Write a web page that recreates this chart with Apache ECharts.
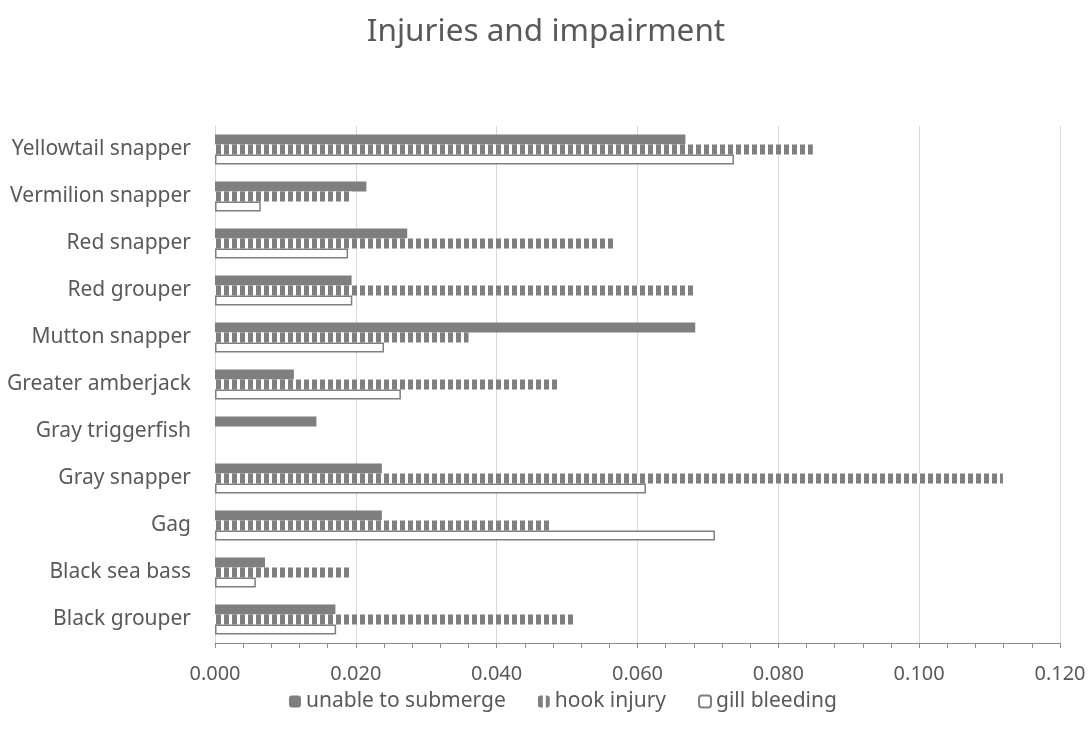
<!DOCTYPE html>
<html>
<head>
<meta charset="utf-8">
<script src="https://cdn.jsdelivr.net/npm/echarts@6/dist/echarts.min.js"></script>
<style>
  html, body { margin: 0; padding: 0; background: #fff; }
  #chart { width: 1092px; height: 740px; }
</style>
</head>
<body>
<div id="chart"></div>
<script>
// categories, bottom to top as in the picture
var species = ['Black grouper', 'Black sea bass', 'Gag', 'Gray snapper', 'Gray triggerfish',
  'Greater amberjack', 'Mutton snapper', 'Red grouper', 'Red snapper', 'Vermilion snapper', 'Yellowtail snapper'];

var unableToSubmerge = [0.0171, 0.0071, 0.0237, 0.0237, 0.0144, 0.0112, 0.0682, 0.0194, 0.0273, 0.0215, 0.0668];
var hookInjury = [0.0510, 0.0194, 0.0476, 0.1119, 0, 0.0487, 0.0360, 0.0679, 0.0566, 0.0194, 0.0849];
var gillBleeding = [0.0172, 0.0058, 0.0710, 0.0612, 0, 0.0264, 0.0240, 0.0195, 0.0189, 0.0065, 0.0737];

var xTicks = [0, 0.02, 0.04, 0.06, 0.08, 0.1, 0.12];

var grey = '#7f7f7f';
var textColor = '#595959';
var font = 'Noto Sans';

// vertical stripe fill for hook injury
function stripes() {
  var c = document.createElement('canvas');
  c.width = 8;
  c.height = 8;
  var ctx = c.getContext('2d');
  ctx.fillStyle = '#ffffff';
  ctx.fillRect(0, 0, 8, 8);
  ctx.fillStyle = grey;
  ctx.fillRect(0, 0, 5, 8);
  return c;
}

// zero values get no outline, so nothing shows
function noEmpty(arr) {
  return arr.map(function (v) {
    return v === 0 ? { value: v, itemStyle: { borderWidth: 0 } } : v;
  });
}

var chart = echarts.init(document.getElementById('chart'));
chart.setOption({
  animation: false,
  textStyle: { fontFamily: font, color: textColor },
  title: {
    text: 'Injuries and impairment',
    left: 'center',
    top: 11,
    textStyle: { fontFamily: font, fontSize: 31.5, fontWeight: 'normal', color: textColor }
  },
  legend: {
    top: 686,
    left: 284,
    itemWidth: 12,
    itemHeight: 12,
    itemGap: 32,
    textStyle: { fontFamily: font, fontSize: 21, color: textColor },
    data: ['unable to submerge', 'hook injury', 'gill bleeding']
  },
  grid: { left: 215, right: 32, top: 126, bottom: 97 },
  xAxis: {
    type: 'value',
    min: xTicks[0],
    max: xTicks[xTicks.length - 1],
    interval: 0.02,
    axisLine: { show: true, lineStyle: { color: '#8c8c8c', width: 1 } },
    axisTick: { show: true, length: 5, lineStyle: { color: '#8c8c8c' } },
    minorTick: { show: true, splitNumber: 5, length: 5, lineStyle: { color: '#8c8c8c' } },
    splitLine: { show: true, lineStyle: { color: '#d9d9d9', width: 1 } },
    axisLabel: {
      margin: 21,
      fontSize: 20,
      color: textColor,
      formatter: function (v) { return v.toFixed(3); }
    }
  },
  yAxis: {
    type: 'category',
    data: species,
    axisLine: { show: true, lineStyle: { color: '#d9d9d9' } },
    axisTick: { show: false },
    axisLabel: { margin: 24, fontSize: 21, color: textColor }
  },
  series: [
    {
      name: 'unable to submerge',
      type: 'bar',
      data: unableToSubmerge,
      barGap: '0%',
      barCategoryGap: '36%',
      itemStyle: { color: grey }
    },
    {
      name: 'hook injury',
      type: 'bar',
      data: hookInjury,
      itemStyle: { color: { image: stripes(), repeat: 'repeat' } }
    },
    {
      name: 'gill bleeding',
      type: 'bar',
      data: noEmpty(gillBleeding),
      itemStyle: { color: '#ffffff', borderColor: grey, borderWidth: 1.5 }
    }
  ]
});
</script>
</body>
</html>
